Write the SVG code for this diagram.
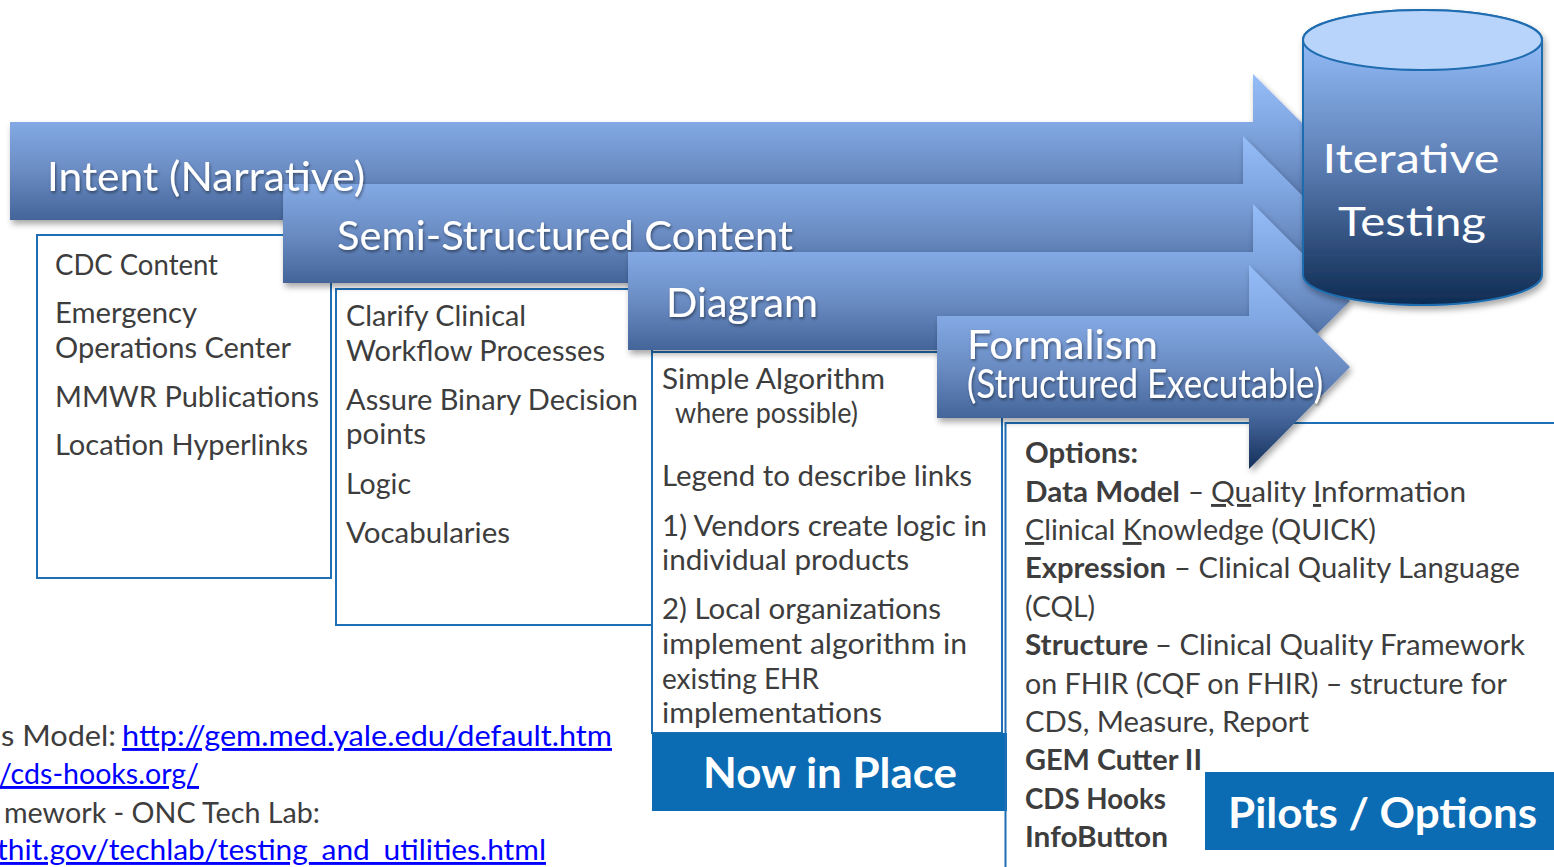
<svg xmlns="http://www.w3.org/2000/svg" width="1554" height="867" viewBox="0 0 1554 867">
<style>
text { font-family: Lato, "Liberation Sans", sans-serif; }
.lbl { fill: #ffffff; font-size: 40px; }
.bt { fill: #3d3d3d; font-size: 29px; }
.bb { font-weight: bold; }
.lnk { fill: #0000ff; text-decoration: underline; }
.box { fill: #ffffff; stroke: #1f6fb6; stroke-width: 2; }
.pill { fill: #0b6bb3; }
.pt { fill: #ffffff; font-size: 42px; font-weight: bold; }
.arrow { fill: url(#ag); filter: url(#sh); }
.line { stroke: #1f6fb6; stroke-width: 2; fill: none; }
</style>
<defs>
<linearGradient id="ag" x1="0" y1="0" x2="0" y2="1">
<stop offset="0" stop-color="#95bdf8"/>
<stop offset="0.25" stop-color="#83a9e4"/>
<stop offset="0.5" stop-color="#6a8cc3"/>
<stop offset="0.75" stop-color="#44659a"/>
<stop offset="1" stop-color="#15305a"/>
</linearGradient>
<linearGradient id="cg" gradientUnits="userSpaceOnUse" x1="0" y1="40" x2="0" y2="305">
<stop offset="0" stop-color="#92bbf7"/>
<stop offset="0.45" stop-color="#5e80b6"/>
<stop offset="1" stop-color="#0e2b52"/>
</linearGradient>
<filter id="sh" x="-5%" y="-10%" width="110%" height="130%">
<feDropShadow dx="2" dy="4" stdDeviation="3" flood-color="#000" flood-opacity="0.35"/>
</filter>
<filter id="ts" x="-5%" y="-20%" width="110%" height="150%">
<feDropShadow dx="1" dy="2" stdDeviation="1.5" flood-color="#000" flood-opacity="0.45"/>
</filter>
</defs>

<g id="references">
<text class="bt" x="1" y="746" textLength="115" lengthAdjust="spacingAndGlyphs">s Model:</text>
<text class="bt lnk" x="122" y="746" textLength="490" lengthAdjust="spacingAndGlyphs">http://gem.med.yale.edu/default.htm</text>
<text class="bt lnk" x="-1" y="784" textLength="200" lengthAdjust="spacingAndGlyphs">/cds-hooks.org/</text>
<text class="bt" x="4" y="823" textLength="316" lengthAdjust="spacingAndGlyphs">mework - ONC Tech Lab:</text>
<text class="bt lnk" x="-3" y="860" textLength="549" lengthAdjust="spacingAndGlyphs">thit.gov/techlab/testing_and_utilities.html</text>
</g>

<g id="intent-box">
<rect class="box" x="37" y="235" width="294" height="343"/>
<text class="bt" x="55" y="275" textLength="163" lengthAdjust="spacingAndGlyphs">CDC Content</text>
<text class="bt" x="55" y="323" textLength="142" lengthAdjust="spacingAndGlyphs">Emergency</text>
<text class="bt" x="55" y="358" textLength="236" lengthAdjust="spacingAndGlyphs">Operations Center</text>
<text class="bt" x="55" y="407" textLength="264" lengthAdjust="spacingAndGlyphs">MMWR Publications</text>
<text class="bt" x="55" y="455" textLength="253" lengthAdjust="spacingAndGlyphs">Location Hyperlinks</text>
</g>

<g id="semi-box">
<rect class="box" x="336" y="289" width="316" height="336"/>
<text class="bt" x="346" y="326" textLength="180" lengthAdjust="spacingAndGlyphs">Clarify Clinical</text>
<text class="bt" x="346" y="361" textLength="259" lengthAdjust="spacingAndGlyphs">Workflow Processes</text>
<text class="bt" x="346" y="410" textLength="292" lengthAdjust="spacingAndGlyphs">Assure Binary Decision</text>
<text class="bt" x="346" y="444" textLength="80" lengthAdjust="spacingAndGlyphs">points</text>
<text class="bt" x="346" y="494" textLength="65" lengthAdjust="spacingAndGlyphs">Logic</text>
<text class="bt" x="346" y="543" textLength="164" lengthAdjust="spacingAndGlyphs">Vocabularies</text>
</g>

<g id="diagram-box">
<rect class="box" x="652" y="352" width="350" height="381"/>
<text class="bt" x="662" y="389" textLength="223" lengthAdjust="spacingAndGlyphs">Simple Algorithm</text>
<text class="bt" x="675" y="423" font-size="26" textLength="183" lengthAdjust="spacingAndGlyphs">where possible)</text>
<text class="bt" x="662" y="486" textLength="310" lengthAdjust="spacingAndGlyphs">Legend to describe links</text>
<text class="bt" x="662" y="536" textLength="325" lengthAdjust="spacingAndGlyphs">1) Vendors create logic in</text>
<text class="bt" x="662" y="570" textLength="247" lengthAdjust="spacingAndGlyphs">individual products</text>
<text class="bt" x="662" y="619" textLength="279" lengthAdjust="spacingAndGlyphs">2) Local organizations</text>
<text class="bt" x="662" y="654" textLength="305" lengthAdjust="spacingAndGlyphs">implement algorithm in</text>
<text class="bt" x="662" y="689" textLength="157" lengthAdjust="spacingAndGlyphs">existing EHR</text>
<text class="bt" x="662" y="723" textLength="220" lengthAdjust="spacingAndGlyphs">implementations</text>
</g>

<g id="now-in-place">
<rect class="pill" x="652" y="733" width="355" height="78"/>
<text class="pt" x="830" y="788" text-anchor="middle" textLength="254" lengthAdjust="spacingAndGlyphs">Now in Place</text>
</g>

<g id="options-box">
<path class="line" d="M1005.5,867 V423 H1554"/>
<text class="bt bb" x="1025" y="463" textLength="113" lengthAdjust="spacingAndGlyphs">Options:</text>
<text class="bt bb" x="1025" y="502" textLength="155" lengthAdjust="spacingAndGlyphs">Data Model</text>
<text class="bt" x="1188" y="502" textLength="16" lengthAdjust="spacingAndGlyphs">–</text>
<text class="bt" x="1211" y="502" textLength="255" lengthAdjust="spacingAndGlyphs"><tspan text-decoration="underline">Qu</tspan>ality <tspan text-decoration="underline">I</tspan>nformation</text>
<text class="bt" x="1025" y="540" textLength="351" lengthAdjust="spacingAndGlyphs"><tspan text-decoration="underline">C</tspan>linical <tspan text-decoration="underline">K</tspan>nowledge (QUICK)</text>
<text class="bt bb" x="1025" y="578" textLength="141" lengthAdjust="spacingAndGlyphs">Expression</text>
<text class="bt" x="1174" y="578" textLength="346" lengthAdjust="spacingAndGlyphs">– Clinical Quality Language</text>
<text class="bt" x="1025" y="617" textLength="70" lengthAdjust="spacingAndGlyphs">(CQL)</text>
<text class="bt bb" x="1025" y="655" textLength="123" lengthAdjust="spacingAndGlyphs">Structure</text>
<text class="bt" x="1155" y="655" textLength="370" lengthAdjust="spacingAndGlyphs">– Clinical Quality Framework</text>
<text class="bt" x="1025" y="694" textLength="482" lengthAdjust="spacingAndGlyphs">on FHIR (CQF on FHIR) – structure for</text>
<text class="bt" x="1025" y="732" textLength="284" lengthAdjust="spacingAndGlyphs">CDS, Measure, Report</text>
<text class="bt bb" x="1025" y="770" textLength="177" lengthAdjust="spacingAndGlyphs">GEM Cutter II</text>
<text class="bt bb" x="1025" y="809" textLength="141" lengthAdjust="spacingAndGlyphs">CDS Hooks</text>
<text class="bt bb" x="1025" y="847" textLength="143" lengthAdjust="spacingAndGlyphs">InfoButton</text>
</g>

<g id="pilots-options">
<rect class="pill" x="1205" y="772" width="349" height="78"/>
<text class="pt" x="1382.5" y="828" text-anchor="middle" font-size="43" textLength="309" lengthAdjust="spacingAndGlyphs">Pilots / Options</text>
</g>

<g id="intent">
<path class="arrow" d="M10,122 H1253 V74 L1350,171 L1253,268 V220 H10 Z"/>
</g>

<g id="semi-structured">
<path class="arrow" d="M283,184 H1243 V136 L1340,233.5 L1243,331 V283 H283 Z"/>
<g filter="url(#ts)">
<text class="lbl" x="337" y="250" textLength="456" lengthAdjust="spacingAndGlyphs">Semi-Structured Content</text>
</g>
</g>

<g id="intent-label" filter="url(#ts)">
<text class="lbl" x="47" y="191" textLength="318" lengthAdjust="spacingAndGlyphs">Intent (Narrative)</text>
</g>

<g id="diagram">
<path class="arrow" d="M628,252 H1253 V204 L1350,301 L1253,398 V350 H628 Z"/>
<g filter="url(#ts)">
<text class="lbl" x="666" y="317" textLength="152" lengthAdjust="spacingAndGlyphs">Diagram</text>
</g>
</g>

<g id="iterative-testing">
<path d="M1303,40 V275 A119.5,30 0 0 0 1542,275 V40 A119.5,30 0 0 0 1303,40 Z" fill="url(#cg)" stroke="#1f6db0" stroke-width="2" filter="url(#sh)"/>
<ellipse cx="1422.5" cy="40" rx="119.5" ry="30" fill="#b9d4fa" stroke="#1f6db0" stroke-width="2"/>
<text class="lbl" x="1411" y="173" text-anchor="middle" font-size="46" textLength="177" lengthAdjust="spacingAndGlyphs">Iterative</text>
<text class="lbl" x="1412" y="236" text-anchor="middle" font-size="46" textLength="148" lengthAdjust="spacingAndGlyphs">Testing</text>
</g>

<g id="formalism">
<path class="arrow" d="M937,316 H1249 V265 L1350,367 L1249,469 V418 H937 Z"/>
<g filter="url(#ts)">
<text class="lbl" x="967" y="359" font-size="39" textLength="191" lengthAdjust="spacingAndGlyphs">Formalism</text>
<text class="lbl" x="967" y="398" font-size="30" textLength="356" lengthAdjust="spacingAndGlyphs">(Structured Executable)</text>
</g>
</g>

<g id="connectors"></g>
</svg>
